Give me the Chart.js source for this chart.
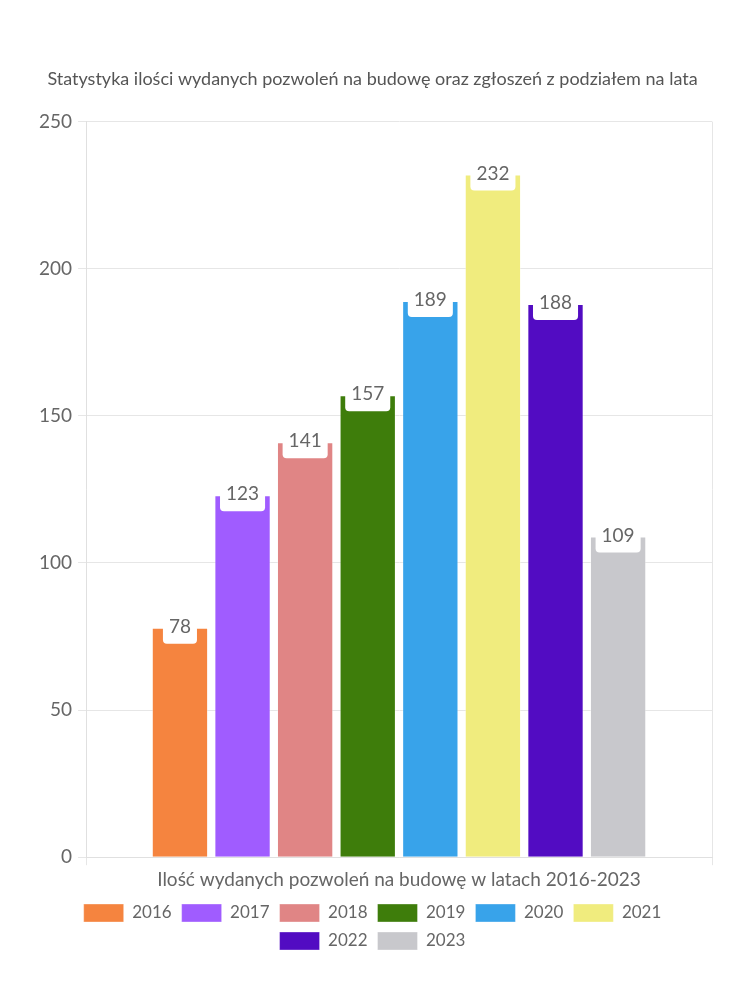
<!DOCTYPE html>
<html>
<head>
<meta charset="utf-8">
<script src="https://cdn.jsdelivr.net/npm/chart.js@4"></script>
<style>
    body { margin: 0; background: #fff; }
    #wrap { width: 750px; height: 1000px; }
</style>
</head>
<body>
<div id="wrap"><canvas id="myChart"></canvas></div>
<script>
// data
const categories = ["Ilość wydanych pozwoleń na budowę w latach 2016-2023"];
const years = ["2016", "2017", "2018", "2019", "2020", "2021", "2022", "2023"];
const values = [78, 123, 141, 157, 189, 232, 188, 109];
const colors = ["#F5843F", "#A05CFF", "#E08585", "#3E7D0B", "#38A3EA", "#F0EC7E", "#520CC2", "#C8C8CC"];
const yTicks = [0, 50, 100, 150, 200, 250];

const FONT = "Lato";
const GREY = "#666";

// white label box on top of each bar
const valueBoxes = {
    id: "valueBoxes",
    afterDatasetsDraw(chart) {
        const ctx = chart.ctx;
        ctx.save();
        ctx.font = "19px " + FONT;
        ctx.textAlign = "center";
        ctx.textBaseline = "middle";
        chart.data.datasets.forEach((ds, i) => {
            const meta = chart.getDatasetMeta(i);
            if (meta.hidden) return;
            meta.data.forEach((bar, j) => {
                const txt = String(ds.data[j]);
                const w = ctx.measureText(txt).width + 12;
                const h = 32;
                ctx.fillStyle = "#fff";
                ctx.beginPath();
                ctx.roundRect(bar.x - w / 2, bar.y - h / 2, w, h, 4);
                ctx.fill();
                ctx.fillStyle = GREY;
                ctx.fillText(txt, bar.x, bar.y - 1);
            });
        });
        ctx.restore();
    }
};

const datasets = years.map((y, i) => ({
    label: y,
    data: [values[i]],
    backgroundColor: colors[i],
    borderColor: "rgba(255,255,255,0.35)",
    borderWidth: 1
}));

new Chart(document.getElementById("myChart"), {
    type: "bar",
    data: { labels: categories, datasets: datasets },
    options: {
        responsive: true,
        maintainAspectRatio: false,
        animation: false,
        layout: { padding: { top: 68, left: 33, right: 38, bottom: 40 } },
        scales: {
            x: {
                grid: { color: "#e6e6e6" },
                border: { color: "#e0e0e0" },
                ticks: { color: GREY, font: { family: FONT, size: 19 } }
            },
            y: {
                min: 0,
                max: 250,
                afterBuildTicks: axis => { axis.ticks = yTicks.map(v => ({ value: v })); },
                grid: { color: "#e6e6e6" },
                border: { color: "#e0e0e0" },
                ticks: { color: GREY, font: { family: FONT, size: 19 }, padding: 6 }
            }
        },
        plugins: {
            title: {
                display: true,
                text: "Statystyka ilości wydanych pozwoleń na budowę oraz zgłoszeń z podziałem na lata",
                color: "#555",
                font: { family: FONT, size: 18, weight: "normal" },
                padding: { top: 0, bottom: 32 }
            },
            legend: {
                position: "bottom",
                labels: {
                    color: GREY,
                    font: { family: FONT, size: 17 },
                    boxWidth: 40,
                    boxHeight: 18,
                    padding: 10
                }
            },
            tooltip: { enabled: false }
        }
    },
    plugins: [valueBoxes]
});
</script>
</body>
</html>
